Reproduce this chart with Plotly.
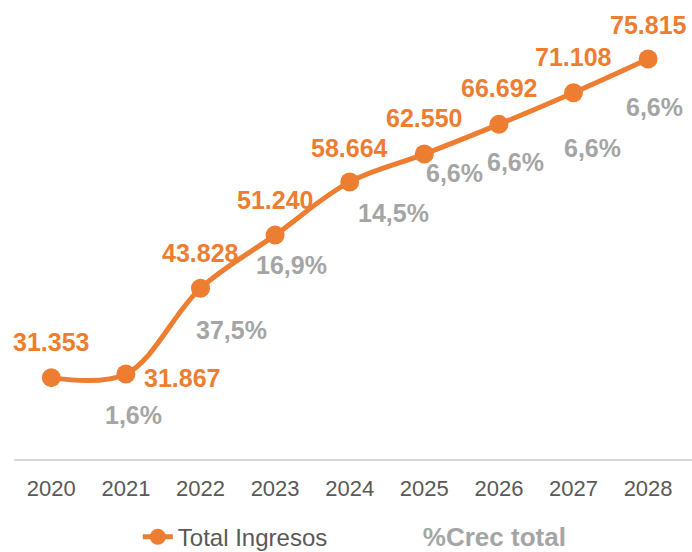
import plotly.graph_objects as go

# Revenue series and year-over-year growth
years = [2020, 2021, 2022, 2023, 2024, 2025, 2026, 2027, 2028]
total_ingresos = [31353, 31867, 43828, 51240, 58664, 62550, 66692, 71108, 75815]
crec_total = [None, 1.6, 37.5, 16.9, 14.5, 6.6, 6.6, 6.6, 6.6]
tick_labels = [str(y) for y in years]

ORANGE = "#ED7D31"
GREY = "#A5A5A5"
TEXT = "#595959"
FONT = "Arial, Liberation Sans, sans-serif"

# pixel offsets of the value labels relative to their points
value_offsets = [(0, 36), (16, -4), (0, 35), (0, 35), (0, 34), (0, 36), (0, 36), (0, 36), (0, 34)]
value_anchor = ["center", "left", "center", "center", "center", "center", "center", "center", "center"]
pct_offsets = [None, (8, -41), (31, -42), (16, -30), (44, -31), (30, -19), (17, -38), (19, -55), (6, -48)]


def fmt_thousands(v):
    return f"{v:,}".replace(",", ".")


def fmt_pct(v):
    return f"{v:.1f}".replace(".", ",") + "%"


fig = go.Figure()

fig.add_trace(go.Scatter(
    x=years, y=total_ingresos, name="Total Ingresos",
    mode="lines+markers",
    line=dict(color=ORANGE, width=5, shape="spline", smoothing=1),
    marker=dict(color=ORANGE, size=19),
))

# growth series: only shown through its labels and legend entry
fig.add_trace(go.Scatter(
    x=years, y=total_ingresos,
    name=f"<b><span style='color:{GREY};font-size:26px'>%Crec total</span></b>",
    mode="lines", line=dict(color="rgba(0,0,0,0)", width=0),
    hoverinfo="skip",
))

annotations = []
for i, (x, v) in enumerate(zip(years, total_ingresos)):
    dx, dy = value_offsets[i]
    annotations.append(dict(
        x=x, y=v, xref="x", yref="y", text=f"<b>{fmt_thousands(v)}</b>",
        showarrow=False, xshift=dx, yshift=dy,
        xanchor=value_anchor[i], yanchor="middle",
        font=dict(family=FONT, size=25, color=ORANGE),
    ))
for i, (x, v, p) in enumerate(zip(years, total_ingresos, crec_total)):
    if p is None:
        continue
    dx, dy = pct_offsets[i]
    annotations.append(dict(
        x=x, y=v, xref="x", yref="y", text=f"<b>{fmt_pct(p)}</b>",
        showarrow=False, xshift=dx, yshift=dy,
        xanchor="center", yanchor="middle",
        font=dict(family=FONT, size=25, color=GREY),
    ))

fig.update_layout(
    width=692, height=552,
    margin=dict(l=14, r=0, t=29, b=93, autoexpand=False),
    paper_bgcolor="white", plot_bgcolor="white",
    font=dict(family=FONT, color=TEXT),
    showlegend=True,
    legend=dict(
        orientation="h", x=0.544, xanchor="center", y=-0.182, yanchor="middle",
        font=dict(family=FONT, size=24, color=TEXT),
        entrywidth=200, entrywidthmode="pixels",
    ),
    annotations=annotations,
    xaxis=dict(
        range=[2019.5, 2019.5 + 678 / 74.6],
        tickvals=years, ticktext=tick_labels,
        showgrid=False, zeroline=False,
        showline=True, linecolor="#D9D9D9", linewidth=2,
        ticks="", ticklabelstandoff=9,
        tickfont=dict(family=FONT, size=22, color=TEXT),
        fixedrange=True,
    ),
    yaxis=dict(
        range=[20000, 80000], visible=False, showgrid=False, zeroline=False,
        fixedrange=True,
    ),
)

fig.write_html("out.html")
